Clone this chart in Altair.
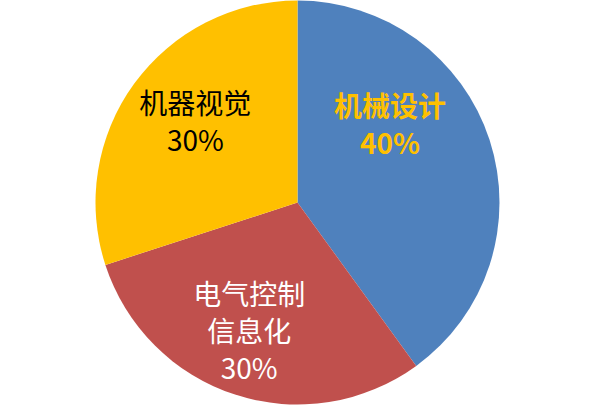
import math
import altair as alt
import pandas as pd

# Share of work by discipline
names = ["机械设计", "电气控制\n信息化", "机器视觉"]
shares = [40, 30, 30]
colors = ["#4F81BD", "#C0504D", "#FFC000"]
label_colors = ["#FFC000", "#FFFFFF", "#000000"]
label_weights = ["bold", "normal", "normal"]

df = pd.DataFrame({"name": names, "share": shares, "order": range(len(names))})
df["label"] = [f"{n}\n{s}%" for n, s in zip(names, shares)]

FONT = "Noto Sans CJK SC"
R = 202
LINE_H = 37
TWO_PI = 2 * math.pi

base = alt.Chart(df)

pie = base.mark_arc(outerRadius=R, stroke=None).encode(
    theta=alt.Theta("share:Q", stack=True),
    order=alt.Order("order:Q"),
    color=alt.Color("name:N", scale=alt.Scale(domain=names, range=colors), legend=None),
)

# label placement per slice: radius along the slice bisector plus a small nudge
placements = [(112, -14, -40), (137, -6, 1), (130, 3, -2)]

labels = []
for i, (r, dx, dy) in enumerate(placements):
    n_lines = df.loc[i, "label"].count("\n") + 1
    # multi-line text anchors on its first line, so lift the block to centre it
    lift = (n_lines - 1) * LINE_H / 2
    layer = (
        base.transform_window(cum="sum(share)", sort=[alt.SortField("order")])
        .transform_calculate(mid="datum.cum - datum.share / 2")
        .transform_filter(alt.datum.order == i)
        .mark_text(
            font=FONT,
            fontSize=28,
            fontWeight=label_weights[i],
            color=label_colors[i],
            lineBreak="\n",
            lineHeight=LINE_H,
            align="center",
            baseline="middle",
            dx=dx,
            dy=dy - lift,
        )
        .encode(
            theta=alt.Theta(
                "mid:Q", stack=None, scale=alt.Scale(domain=[0, sum(shares)], range=[0, TWO_PI])
            ),
            radius=alt.value(r),
            text="label:N",
        )
    )
    labels.append(layer)

chart = (
    alt.layer(pie, *labels)
    .properties(
        width=595,
        height=405,
        autosize=alt.AutoSizeParams(type="none"),
        padding={"left": 0, "top": 0, "right": 5, "bottom": 0},
    )
    .configure_view(stroke=None)
    .configure(background="white")
)

chart.save("out.html", embed_options={"renderer": "svg", "actions": False})
